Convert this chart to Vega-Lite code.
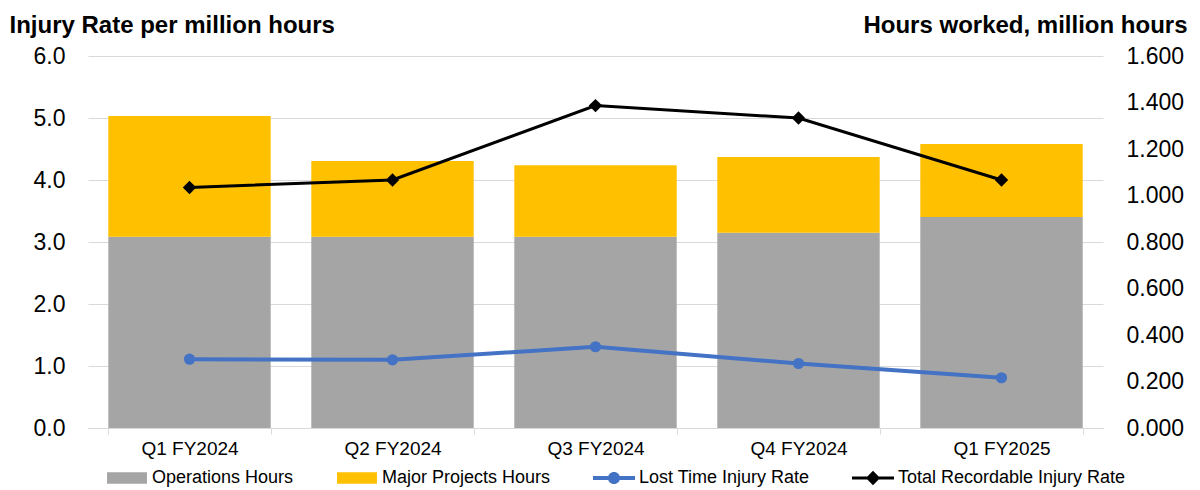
{
  "$schema": "https://vega.github.io/schema/vega-lite/v6.json",
  "autosize": "none",
  "width": 1015,
  "height": 372,
  "padding": {"left": 88, "top": 56, "right": 97, "bottom": 62},
  "background": "white",
  "config": {
    "view": {"stroke": null},
    "font": "Liberation Sans",
    "axis": {"labelFont": "Liberation Sans", "titleFont": "Liberation Sans", "labelColor": "#000000", "titleColor": "#000000"}
  },
  "data": {
    "values": [
      {"quarter": "Q1 FY2024", "series": "Operations Hours", "kind": "hours", "value": 0.823},
      {"quarter": "Q1 FY2024", "series": "Major Projects Hours", "kind": "hours", "value": 0.519},
      {"quarter": "Q2 FY2024", "series": "Operations Hours", "kind": "hours", "value": 0.823},
      {"quarter": "Q2 FY2024", "series": "Major Projects Hours", "kind": "hours", "value": 0.325},
      {"quarter": "Q3 FY2024", "series": "Operations Hours", "kind": "hours", "value": 0.823},
      {"quarter": "Q3 FY2024", "series": "Major Projects Hours", "kind": "hours", "value": 0.307},
      {"quarter": "Q4 FY2024", "series": "Operations Hours", "kind": "hours", "value": 0.840},
      {"quarter": "Q4 FY2024", "series": "Major Projects Hours", "kind": "hours", "value": 0.326},
      {"quarter": "Q1 FY2025", "series": "Operations Hours", "kind": "hours", "value": 0.908},
      {"quarter": "Q1 FY2025", "series": "Major Projects Hours", "kind": "hours", "value": 0.314},
      {"quarter": "Q1 FY2024", "series": "Lost Time Injury Rate", "kind": "rate", "value": 1.11},
      {"quarter": "Q2 FY2024", "series": "Lost Time Injury Rate", "kind": "rate", "value": 1.10},
      {"quarter": "Q3 FY2024", "series": "Lost Time Injury Rate", "kind": "rate", "value": 1.31},
      {"quarter": "Q4 FY2024", "series": "Lost Time Injury Rate", "kind": "rate", "value": 1.04},
      {"quarter": "Q1 FY2025", "series": "Lost Time Injury Rate", "kind": "rate", "value": 0.81},
      {"quarter": "Q1 FY2024", "series": "Total Recordable Injury Rate", "kind": "rate", "value": 3.88},
      {"quarter": "Q2 FY2024", "series": "Total Recordable Injury Rate", "kind": "rate", "value": 4.00},
      {"quarter": "Q3 FY2024", "series": "Total Recordable Injury Rate", "kind": "rate", "value": 5.20},
      {"quarter": "Q4 FY2024", "series": "Total Recordable Injury Rate", "kind": "rate", "value": 5.00},
      {"quarter": "Q1 FY2025", "series": "Total Recordable Injury Rate", "kind": "rate", "value": 4.00}
    ]
  },
  "encoding": {
    "x": {
      "field": "quarter",
      "type": "nominal",
      "sort": null,
      "scale": {"paddingInner": 0.2, "paddingOuter": 0.1},
      "axis": {
        "title": null,
        "labelAngle": 0,
        "labelFontSize": 19,
        "labelPadding": 5,
        "domainColor": "#D9D9D9",
        "domainWidth": 1,
        "tickColor": "#D9D9D9",
        "tickSize": 6,
        "tickBand": "extent",
        "grid": false
      }
    }
  },
  "layer": [
    {
      "transform": [{"filter": "datum.kind === 'hours'"}],
      "mark": {"type": "bar"},
      "encoding": {
        "y": {
          "field": "value",
          "type": "quantitative",
          "stack": "zero",
          "scale": {"domain": [0, 1.6], "nice": false},
          "axis": {
            "orient": "right",
            "values": [0, 0.2, 0.4, 0.6, 0.8, 1.0, 1.2, 1.4, 1.6],
            "format": ".3f",
            "grid": false,
            "domain": false,
            "ticks": false,
            "labelFontSize": 23,
            "labelPadding": 23,
            "title": "Hours worked, million hours",
            "titleAngle": 0,
            "titleFontSize": 24,
            "titleFontWeight": "bold",
            "titleAlign": "right",
            "titleBaseline": "alphabetic",
            "titleX": 84,
            "titleY": -24
          }
        },
        "color": {
          "field": "series",
          "type": "nominal",
          "scale": {
            "domain": ["Operations Hours", "Major Projects Hours", "Lost Time Injury Rate", "Total Recordable Injury Rate"],
            "range": ["#A5A5A5", "#FFC000", "#4472C4", "#000000"]
          },
          "legend": {
            "title": null,
            "orient": "none",
            "direction": "horizontal",
            "legendX": 18,
            "legendY": 401,
            "labelFont": "Liberation Sans",
            "labelFontSize": 18,
            "labelColor": "#000000",
            "labelLimit": 400,
            "labelOffset": 4,
            "columnPadding": 42,
            "symbolSize": 1764,
            "encode": {
              "symbols": {
                "update": {
                  "shape": {"signal": "datum.value === 'Lost Time Injury Rate' ? 'M-1,-0.1H1V0.1H-1Z M0.29,0A0.29,0.29 0 1,1 -0.29,0A0.29,0.29 0 1,1 0.29,0Z' : datum.value === 'Total Recordable Injury Rate' ? 'M-1,-0.075H1V0.075H-1Z M0,-0.34L0.34,0L0,0.34L-0.34,0Z' : 'M-0.95,-0.27H0.95V0.27H-0.95Z'"},
                  "fill": {"scale": "color", "field": "value"},
                  "fillOpacity": {"value": 1},
                  "stroke": {"value": "transparent"},
                  "strokeWidth": {"value": 0}
                }
              }
            }
          }
        },
        "order": {"field": "series", "sort": "descending"}
      }
    },
    {
      "transform": [{"filter": "datum.kind === 'rate'"}],
      "mark": {"type": "rule", "opacity": 0},
      "encoding": {
        "y": {
          "field": "value",
          "type": "quantitative",
          "scale": {"domain": [0, 6], "nice": false},
          "axis": {
            "orient": "left",
            "values": [0, 1, 2, 3, 4, 5, 6],
            "format": ".1f",
            "grid": true,
            "gridColor": "#D9D9D9",
            "gridWidth": 1,
            "domain": false,
            "ticks": false,
            "labelFontSize": 23,
            "labelPadding": 23,
            "title": "Injury Rate per million hours",
            "titleAngle": 0,
            "titleFontSize": 24,
            "titleFontWeight": "bold",
            "titleAlign": "left",
            "titleBaseline": "alphabetic",
            "titleX": -79,
            "titleY": -24
          }
        }
      }
    },
    {
      "transform": [{"filter": "datum.series === 'Lost Time Injury Rate'"}],
      "mark": {"type": "line", "strokeWidth": 4},
      "encoding": {
        "y": {"field": "value", "type": "quantitative", "scale": {"domain": [0, 6], "nice": false}, "axis": null},
        "color": {"field": "series", "type": "nominal"}
      }
    },
    {
      "transform": [{"filter": "datum.series === 'Lost Time Injury Rate'"}],
      "mark": {"type": "point", "shape": "circle", "filled": true, "size": 125, "opacity": 1},
      "encoding": {
        "y": {"field": "value", "type": "quantitative", "scale": {"domain": [0, 6], "nice": false}, "axis": null},
        "color": {"field": "series", "type": "nominal"}
      }
    },
    {
      "transform": [{"filter": "datum.series === 'Total Recordable Injury Rate'"}],
      "mark": {"type": "line", "strokeWidth": 3},
      "encoding": {
        "y": {"field": "value", "type": "quantitative", "scale": {"domain": [0, 6], "nice": false}, "axis": null},
        "color": {"field": "series", "type": "nominal"}
      }
    },
    {
      "transform": [{"filter": "datum.series === 'Total Recordable Injury Rate'"}],
      "mark": {"type": "point", "shape": "diamond", "filled": true, "size": 180, "opacity": 1},
      "encoding": {
        "y": {"field": "value", "type": "quantitative", "scale": {"domain": [0, 6], "nice": false}, "axis": null},
        "color": {"field": "series", "type": "nominal"}
      }
    }
  ],
  "resolve": {"scale": {"y": "independent"}, "axis": {"y": "independent"}}
}
